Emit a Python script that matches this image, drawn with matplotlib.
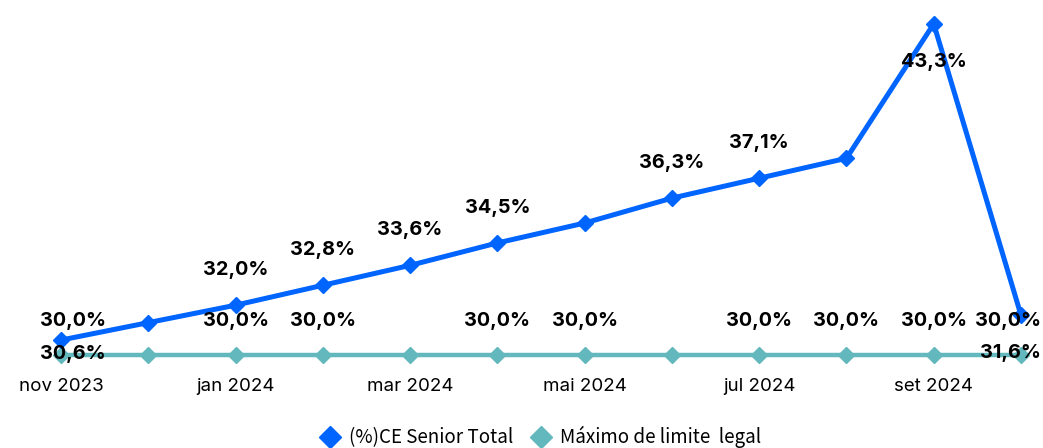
import matplotlib
matplotlib.use("Agg")
import matplotlib.pyplot as plt
from matplotlib.lines import Line2D
import numpy as np

months = ["nov 2023", "dez 2023", "jan 2024", "fev 2024", "mar 2024", "abr 2024",
          "mai 2024", "jun 2024", "jul 2024", "ago 2024", "set 2024", "out 2024"]
ce_senior = [30.6, 31.3, 32.0, 32.8, 33.6, 34.5, 35.3, 36.3, 37.1, 37.9, 43.3, 31.6]
limite_legal = [30.0] * 12

# which points carry a label in the reference (others were hidden by overlap)
senior_labeled = [0, 2, 3, 4, 5, 7, 8, 10, 11]
limite_labeled = [0, 2, 3, 5, 6, 8, 9, 10, 11]

blue = "#0064FF"
teal = "#62B8BC"

plt.rcParams["font.family"] = ["Inter", "DejaVu Sans"]

fig = plt.figure(figsize=(10.43, 4.48), dpi=100)
ax = fig.add_axes([61 / 1043, 78 / 448, 960 / 1043, 370 / 448])

x = np.arange(len(months))
ax.plot(x, limite_legal, color=teal, lw=3.2, marker="D", ms=8, clip_on=False, zorder=2)
ax.plot(x, ce_senior, color=blue, lw=3.6, marker="D", ms=8, clip_on=False, zorder=3)

ax.set_xlim(0, 11)
ax.set_ylim(30 - 15 / 24.9, 30 + 370 / 24.9 - 15 / 24.9)

px = 0.72  # points per pixel at 100 dpi
last = len(months) - 1


def put_label(i, y, dy_px):
    txt = f"{y:.1f}%".replace(".", ",")
    if i == last:
        dx, ha = 20, "right"
    elif i == 0:
        dx, ha = 12, "center"
    else:
        dx, ha = 0, "center"
    ax.annotate(txt, (i, y), xytext=(dx * px, -dy_px * px), textcoords="offset points",
                ha=ha, va="center", fontsize=14.3, fontweight="bold", zorder=5)


for i in senior_labeled:
    if i == 0:
        dy = 14
    elif i in (10, 11):
        dy = 38
    else:
        dy = -35
    put_label(i, ce_senior[i], dy)

for i in limite_labeled:
    put_label(i, limite_legal[i], -34)

ax.set_xticks(x[::2])
ax.set_xticklabels(months[::2], fontsize=13.5)
ax.tick_params(axis="x", length=0, pad=6)
ax.set_yticks([])
for s in ax.spines.values():
    s.set_visible(False)

handles = [
    Line2D([], [], color=blue, marker="D", ls="none", ms=11),
    Line2D([], [], color=teal, marker="D", ls="none", ms=11),
]
fig.legend(handles, ["(%)CE Senior Total", "Máximo de limite  legal"],
           loc="center", bbox_to_anchor=(536 / 1043, 1 - 437 / 448), ncol=2,
           frameon=False, handletextpad=0.0, columnspacing=0.5,
           prop={"family": ["Noto Sans CJK JP", "DejaVu Sans"], "size": 13.5})

fig.savefig("out.png", dpi=100)
